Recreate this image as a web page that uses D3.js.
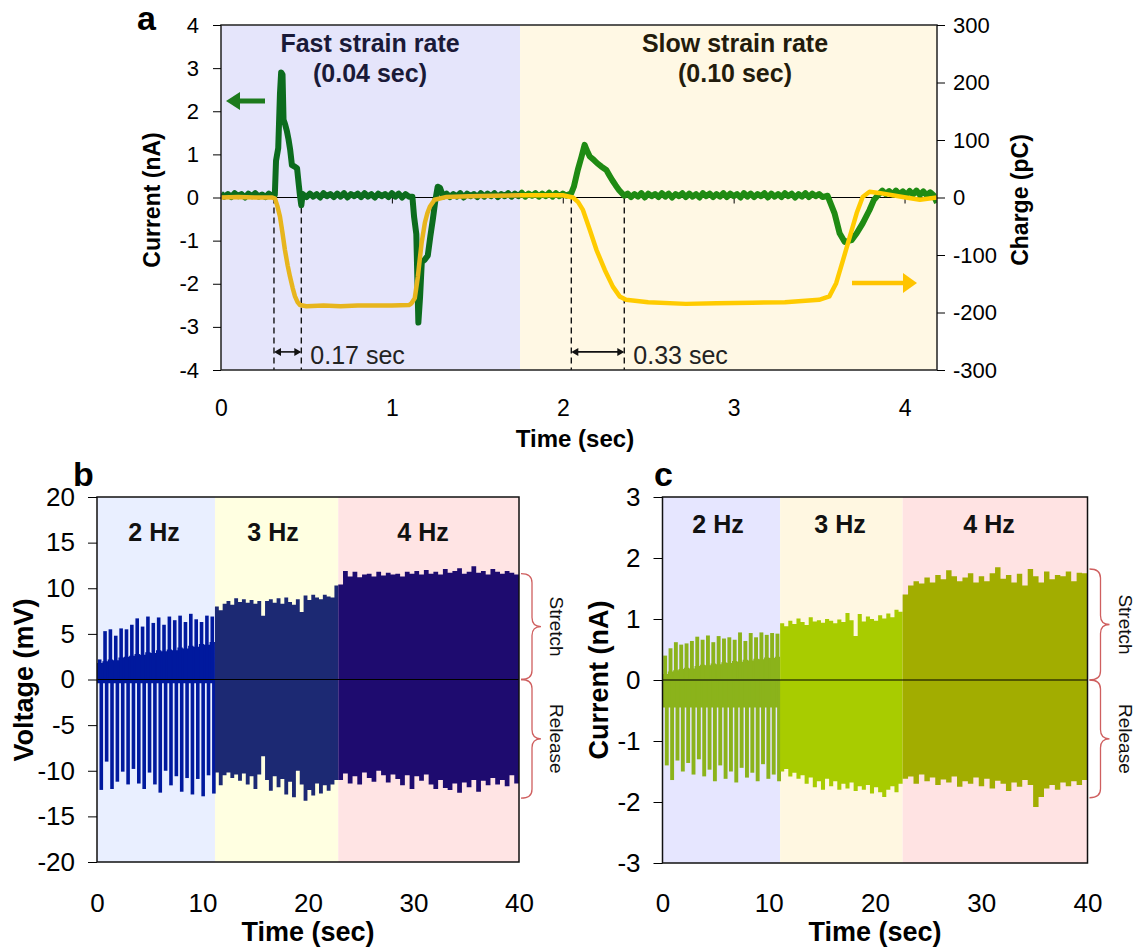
<!DOCTYPE html>
<html>
<head>
<meta charset="utf-8">
<script src="https://cdn.jsdelivr.net/npm/d3@7"></script>
<style>
  body { margin: 0; background: #fff; }
  text { font-family: "Liberation Sans", Arial, sans-serif; }
</style>
</head>
<body>
<svg id="fig" width="1138" height="947"></svg>
<script>
// ---------- panel a : current (nA) and charge (pC) vs time (sec)
var aTimeTicks = [0, 1, 2, 3, 4];
var aCurrentTicks = [-4, -3, -2, -1, 0, 1, 2, 3, 4];
var aChargeTicks = [-300, -200, -100, 0, 100, 200, 300];
var aMinorTicks = [1, 2, 3, 4];
var aRegions = [0, 1.75, 4.19];
var aTitles = [["Fast strain rate", "(0.04 sec)"], ["Slow strain rate", "(0.10 sec)"]];
var aSpans = [[0.31, 0.47, "0.17 sec"], [2.05, 2.36, "0.33 sec"]];

var aCurrent = [
  [0.00, 0.09], [0.02, 0.02], [0.04, 0.08], [0.06, 0.01], [0.08, 0.10], [0.10, 0.03], [0.12, 0.08],
  [0.14, 0.00], [0.16, 0.09], [0.18, 0.03], [0.20, 0.10], [0.22, 0.02], [0.24, 0.07], [0.26, 0.01],
  [0.28, 0.09], [0.30, 0.03], [0.315, 0.06],
  [0.322, 0.85], [0.335, 1.15], [0.345, 2.4], [0.352, 2.9], [0.36, 2.85], [0.366, 1.8], [0.375, 1.7],
  [0.385, 1.55], [0.395, 1.35], [0.405, 1.1], [0.415, 0.75], [0.43, 0.72], [0.445, 0.68], [0.455, 0.3],
  [0.462, 0.05], [0.47, -0.18], [0.478, 0.08],
  [0.50, 0.01], [0.52, 0.09], [0.54, 0.02], [0.56, 0.08], [0.58, 0.00], [0.60, 0.10], [0.62, 0.03],
  [0.64, 0.08], [0.66, 0.01], [0.68, 0.09], [0.70, 0.02], [0.72, 0.10], [0.74, 0.00], [0.76, 0.08],
  [0.78, 0.03], [0.80, 0.09], [0.82, 0.01], [0.84, 0.10], [0.86, 0.02], [0.88, 0.08], [0.90, 0.00],
  [0.92, 0.09], [0.94, 0.03], [0.96, 0.08], [0.98, 0.01], [1.00, 0.10], [1.02, 0.02], [1.04, 0.09],
  [1.06, 0.00], [1.08, 0.08], [1.10, 0.02],
  [1.12, 0.02], [1.13, -0.45], [1.143, -0.85], [1.155, -2.9], [1.165, -2.3], [1.175, -1.5], [1.19, -1.45],
  [1.21, -1.35], [1.225, -0.9], [1.24, -0.5], [1.255, -0.05], [1.268, 0.25], [1.282, 0.22], [1.30, 0.02],
  [1.32, 0.09], [1.34, 0.01], [1.36, 0.08], [1.38, 0.02], [1.40, 0.10], [1.42, 0.00], [1.44, 0.09],
  [1.46, 0.03], [1.48, 0.08], [1.50, 0.01], [1.52, 0.10], [1.54, 0.02], [1.56, 0.09], [1.58, 0.03],
  [1.60, 0.10], [1.62, 0.01], [1.64, 0.08], [1.66, 0.03], [1.68, 0.10], [1.70, 0.02], [1.72, 0.09],
  [1.74, 0.03], [1.76, 0.11], [1.78, 0.02], [1.80, 0.09], [1.82, 0.04], [1.84, 0.10], [1.86, 0.02],
  [1.88, 0.09], [1.90, 0.03], [1.92, 0.11], [1.94, 0.02], [1.96, 0.10], [1.98, 0.03], [2.00, 0.09],
  [2.02, 0.04], [2.05, 0.10],
  [2.065, 0.25], [2.088, 0.64], [2.11, 0.95], [2.128, 1.22], [2.14, 1.1], [2.158, 0.95], [2.18, 0.88],
  [2.2, 0.8], [2.225, 0.72], [2.255, 0.64], [2.275, 0.5], [2.29, 0.4], [2.31, 0.28], [2.33, 0.17],
  [2.36, 0.04],
  [2.38, 0.09], [2.40, 0.01], [2.42, 0.08], [2.44, 0.02], [2.46, 0.10], [2.48, 0.00], [2.50, 0.09],
  [2.52, 0.03], [2.54, 0.08], [2.56, 0.01], [2.58, 0.10], [2.60, 0.02], [2.62, 0.09], [2.64, 0.00],
  [2.66, 0.08], [2.68, 0.03], [2.70, 0.10], [2.72, 0.01], [2.74, 0.09], [2.76, 0.02], [2.78, 0.08],
  [2.80, 0.00], [2.82, 0.10], [2.84, 0.03], [2.86, 0.09], [2.88, 0.01], [2.90, 0.08], [2.92, 0.02],
  [2.94, 0.10], [2.96, 0.01], [2.98, 0.09], [3.00, 0.03], [3.02, 0.08], [3.04, 0.00], [3.06, 0.10],
  [3.08, 0.02], [3.10, 0.09], [3.12, 0.01], [3.14, 0.08], [3.16, 0.03], [3.18, 0.10], [3.20, 0.00],
  [3.22, 0.09], [3.24, 0.02], [3.26, 0.08], [3.28, 0.01], [3.30, 0.10], [3.32, 0.03], [3.34, 0.09],
  [3.36, 0.00], [3.38, 0.08], [3.40, 0.02], [3.42, 0.10], [3.44, 0.01], [3.46, 0.09], [3.48, 0.03],
  [3.50, 0.08], [3.52, 0.01], [3.55, 0.04],
  [3.59, -0.36], [3.62, -0.83], [3.65, -1.03], [3.69, -0.99], [3.72, -0.83], [3.755, -0.6], [3.795, -0.29],
  [3.82, -0.06], [3.85, 0.08], [3.87, 0.16],
  [3.89, 0.08], [3.91, 0.15], [3.93, 0.07], [3.95, 0.16], [3.97, 0.08], [3.99, 0.14], [4.01, 0.06],
  [4.03, 0.15], [4.05, 0.07], [4.07, 0.16], [4.09, 0.06], [4.11, 0.14], [4.13, 0.05], [4.15, 0.12],
  [4.17, 0.05], [4.19, -0.12]
];

var aCharge = [
  [0, 0], [0.1, 1], [0.2, 0], [0.3, 0], [0.316, -2], [0.33, -15], [0.345, -33], [0.36, -62], [0.374, -91],
  [0.39, -118], [0.404, -138], [0.42, -158], [0.433, -172], [0.448, -182], [0.462, -187], [0.5, -189],
  [0.6, -188], [0.7, -189], [0.8, -188], [0.9, -188], [1.0, -188], [1.1, -187], [1.115, -184], [1.134, -175],
  [1.152, -138], [1.163, -108], [1.174, -79], [1.193, -44], [1.208, -27], [1.222, -16], [1.25, -4],
  [1.32, 1], [1.45, 2], [1.6, 3], [1.8, 4], [2.0, 4], [2.06, 0], [2.09, -8], [2.117, -21], [2.158, -56],
  [2.197, -91], [2.246, -126], [2.293, -155], [2.333, -172], [2.37, -178], [2.5, -182], [2.72, -185],
  [2.9, -184], [3.11, -183], [3.3, -182], [3.5, -178], [3.56, -172], [3.6, -149], [3.64, -109], [3.68, -68],
  [3.72, -27], [3.755, 1], [3.795, 10], [3.85, 8], [3.99, 1], [4.09, -4], [4.19, 0]
];

// ---------- panels b and c : 2, 3 and 4 Hz stretching
var freqLabels = ["2 Hz", "3 Hz", "4 Hz"];
var bcTimeTicks = [0, 10, 20, 30, 40];
var bVoltTicks = [-20, -15, -10, -5, 0, 5, 10, 15, 20];
var cCurrentTicks = [-3, -2, -1, 0, 1, 2, 3];
var bRegions = [0, 11.18, 22.87, 40];
var cRegions = [0, 11.07, 22.6, 40];

// voltage (mV): per-cycle peaks, troughs; 2 Hz body level
var b2Top = [2.2, 5.3, 5.5, 4.8, 5.6, 5.5, 6.0, 6.7, 5.8, 6.9, 6.2, 6.8, 6.0, 6.9, 6.5, 7.0, 6.3, 7.2, 6.6, 6.3, 7.0, 6.9];
var b2Bot = [-12.1, -9.0, -12.0, -11.2, -10.1, -11.5, -9.8, -11.4, -12.0, -10.2, -11.5, -12.4, -10.0, -11.6, -10.6, -12.3, -10.8, -12.6, -10.9, -12.8, -10.5, -12.5];
var b2Body = [1.8, 2.0, 2.2, 2.1, 2.4, 2.5, 2.6, 2.8, 2.7, 3.0, 2.9, 3.2, 3.1, 3.3, 3.2, 3.5, 3.4, 3.7, 3.6, 3.9, 3.8, 4.1];
var b2Floor = -0.4;
var b3Top = [8.0, 7.6, 8.3, 8.6, 8.2, 8.9, 8.5, 8.8, 8.4, 8.7, 8.3, 8.6, 7.0, 8.6, 8.8, 8.4, 8.9, 8.3, 9.0, 8.5, 8.2, 8.8, 7.4, 9.2, 8.7, 9.3, 9.0, 8.8, 9.3, 9.1, 9.0, 10.3];
var b3Bot = [-10.2, -11.6, -10.5, -10.2, -10.8, -10.4, -11.1, -10.3, -11.5, -10.6, -12.0, -10.4, -8.4, -11.0, -12.2, -10.6, -11.8, -10.9, -12.6, -11.2, -12.9, -10.0, -11.5, -13.3, -12.1, -12.7, -11.4, -12.5, -11.6, -12.2, -11.5, -11.0];
var b4Top = [10.4, 11.9, 11.3, 11.8, 11.2, 11.5, 11.6, 11.3, 11.8, 11.4, 11.7, 11.5, 11.6, 11.3, 11.8, 11.6, 11.9, 11.5, 12.0, 11.6, 11.8, 11.5, 12.1, 11.7, 11.9, 12.2, 11.6, 11.8, 12.4, 11.7, 11.9, 11.5, 12.1, 11.8, 11.6, 11.9, 11.7, 11.5];
var b4Bot = [-11.0, -10.3, -11.4, -10.6, -11.5, -10.2, -10.8, -11.2, -10.0, -10.5, -11.3, -10.4, -10.9, -11.6, -10.5, -12.0, -10.6, -11.1, -10.4, -11.5, -12.0, -11.0, -11.9, -12.1, -11.4, -12.4, -11.3, -11.8, -11.0, -12.3, -11.1, -11.6, -10.8, -11.5, -11.0, -11.7, -10.5, -11.4];
var bBrace = [[11.6, 0, "Stretch"], [0, -13.0, "Release"]];

// current (nA)
var c2Top = [0.40, 0.52, 0.62, 0.58, 0.60, 0.64, 0.71, 0.66, 0.73, 0.62, 0.72, 0.68, 0.70, 0.66, 0.78, 0.64, 0.77, 0.70, 0.78, 0.74, 0.77, 0.76];
var c2Bot = [-1.40, -1.64, -1.32, -1.50, -1.36, -1.55, -1.30, -1.58, -1.47, -1.66, -1.40, -1.62, -1.50, -1.68, -1.44, -1.60, -1.52, -1.66, -1.38, -1.62, -1.55, -1.66];
var c2Body = [0.10, 0.14, 0.16, 0.18, 0.20, 0.19, 0.23, 0.25, 0.24, 0.27, 0.26, 0.29, 0.28, 0.31, 0.30, 0.33, 0.32, 0.35, 0.34, 0.37, 0.36, 0.38];
var c2Floor = -0.45;
var c3Top = [0.93, 0.88, 0.97, 0.92, 1.01, 0.95, 0.90, 1.03, 0.96, 0.98, 0.94, 1.00, 0.97, 0.93, 0.99, 0.95, 1.10, 0.98, 0.72, 1.08, 0.96, 1.04, 1.00, 0.97, 1.06, 1.01, 1.09, 1.03, 1.15, 1.12];
var c3Bot = [-1.50, -1.46, -1.58, -1.52, -1.62, -1.56, -1.70, -1.60, -1.76, -1.66, -1.80, -1.62, -1.74, -1.66, -1.80, -1.70, -1.78, -1.68, -1.82, -1.74, -1.80, -1.72, -1.86, -1.76, -1.84, -1.92, -1.80, -1.74, -1.84, -1.70];
var c4Top = [1.40, 1.55, 1.62, 1.58, 1.68, 1.60, 1.72, 1.65, 1.80, 1.70, 1.62, 1.68, 1.75, 1.60, 1.70, 1.62, 1.75, 1.85, 1.66, 1.72, 1.60, 1.74, 1.55, 1.82, 1.70, 1.60, 1.78, 1.65, 1.72, 1.70, 1.78, 1.62, 1.76, 1.75];
var c4Bot = [-1.62, -1.58, -1.70, -1.55, -1.66, -1.60, -1.72, -1.63, -1.68, -1.58, -1.75, -1.66, -1.70, -1.60, -1.74, -1.62, -1.78, -1.65, -1.70, -1.82, -1.68, -1.75, -1.64, -1.72, -2.08, -1.92, -1.78, -1.72, -1.80, -1.68, -1.74, -1.66, -1.72, -1.64];
var cBrace = [[1.82, 0, "Stretch"], [0, -1.93, "Release"]];

var svg = d3.select("#fig");
var FONT = "'Liberation Sans', Arial, sans-serif";

// plain hyphen for negatives, as in the original figure
function num(d) { return d < 0 ? "-" + Math.abs(d) : String(d); }

function styleAxis(g, size) {
  g.attr("font-family", FONT).attr("font-size", size);
  g.select(".domain").remove();
  g.selectAll("text").attr("fill", "#000");
  g.selectAll("line").attr("stroke", "#000");
}

// ================= panel a =================
var ax = d3.scaleLinear().domain([0, 4.19]).range([221, 937]);
var ay = d3.scaleLinear().domain([-4, 4]).range([370, 25]);
var ayR = d3.scaleLinear().domain([-300, 300]).range([370, 25]);
var aBg = ["#e5e5fb", "#fff8e4"];
var aGreen = ["#0c6c1e", "#1f8b13"];
var aYellow = ["#e7b51d", "#ffcb00"];

var pa = svg.append("g");
var defs = svg.append("defs");
aBg.forEach(function(c, i) {
  pa.append("rect").attr("x", ax(aRegions[i])).attr("y", ay(4))
    .attr("width", ax(aRegions[i + 1]) - ax(aRegions[i])).attr("height", ay(-4) - ay(4))
    .attr("fill", c);
  defs.append("clipPath").attr("id", "clipA" + i).append("rect")
    .attr("x", ax(aRegions[i])).attr("y", 0)
    .attr("width", ax(aRegions[i + 1]) - ax(aRegions[i])).attr("height", 400);
});

// zero line with small ticks
pa.append("line").attr("x1", ax(0)).attr("x2", ax(4.19)).attr("y1", ay(0)).attr("y2", ay(0))
  .attr("stroke", "#000").attr("stroke-width", 1);
pa.append("g").attr("transform", "translate(0," + ay(0) + ")")
  .call(d3.axisBottom(ax).tickValues(aMinorTicks).tickSize(6).tickFormat(""))
  .call(styleAxis, 10);

// dashed markers
aSpans.forEach(function(s) {
  [s[0], s[1]].forEach(function(t) {
    pa.append("line").attr("x1", ax(t)).attr("x2", ax(t)).attr("y1", ay(0)).attr("y2", ay(-4))
      .attr("stroke", "#111").attr("stroke-width", 1.4).attr("stroke-dasharray", "6,4");
  });
});

var lineA = d3.line().x(function(d) { return ax(d[0]); });
aGreen.forEach(function(c, i) {
  var g = pa.append("g").attr("clip-path", "url(#clipA" + i + ")");
  g.append("path").datum(aCurrent)
    .attr("d", lineA.y(function(d) { return ay(d[1]); }))
    .attr("fill", "none").attr("stroke", c).attr("stroke-width", 6).attr("stroke-linejoin", "round");
});
aYellow.forEach(function(c, i) {
  var g = pa.append("g").attr("clip-path", "url(#clipA" + i + ")");
  g.append("path").datum(aCharge)
    .attr("d", lineA.y(function(d) { return ayR(d[1]); }))
    .attr("fill", "none").attr("stroke", c).attr("stroke-width", 4.5).attr("stroke-linejoin", "round");
});

// double arrows + labels
aSpans.forEach(function(s) {
  var y = ay(-3.58), x1 = ax(s[0]), x2 = ax(s[1]);
  pa.append("line").attr("x1", x1 + 2).attr("x2", x2 - 2).attr("y1", y).attr("y2", y)
    .attr("stroke", "#111").attr("stroke-width", 1.6);
  pa.append("path").attr("d", "M" + x1 + "," + y + "l7,-4l0,8z").attr("fill", "#111");
  pa.append("path").attr("d", "M" + x2 + "," + y + "l-7,-4l0,8z").attr("fill", "#111");
  pa.append("text").attr("x", x2 + 9).attr("y", y + 12).attr("font-size", 25)
    .attr("fill", "#222").text(s[2]);
});

// region titles
aTitles.forEach(function(t, i) {
  var cxp = i === 0 ? 370 : 735;
  var g = pa.append("g").attr("font-weight", "bold").attr("font-size", 25)
    .attr("fill", i === 0 ? "#1a1a38" : "#231c0c").attr("text-anchor", "middle");
  g.append("text").attr("x", cxp).attr("y", 52).text(t[0]);
  g.append("text").attr("x", cxp).attr("y", 82).text(t[1]);
});

// side arrows
pa.append("line").attr("x1", 238).attr("x2", 265).attr("y1", 101).attr("y2", 101)
  .attr("stroke", "#1d7a1d").attr("stroke-width", 5);
pa.append("path").attr("d", "M226,101l14,-9l0,18z").attr("fill", "#1d7a1d");
pa.append("line").attr("x1", 852).attr("x2", 905).attr("y1", 283).attr("y2", 283)
  .attr("stroke", "#ffc400").attr("stroke-width", 4.5);
pa.append("path").attr("d", "M917,283l-14,-10l0,20z").attr("fill", "#ffc400");

// frame and axes
pa.append("rect").attr("x", ax(0)).attr("y", ay(4)).attr("width", ax(4.19) - ax(0))
  .attr("height", ay(-4) - ay(4)).attr("fill", "none").attr("stroke", "#222").attr("stroke-width", 1.5);
pa.append("g").attr("transform", "translate(" + ax(0) + ",0)")
  .call(d3.axisLeft(ay).tickValues(aCurrentTicks).tickFormat(num).tickSize(8).tickPadding(14))
  .call(styleAxis, 22);
pa.append("g").attr("transform", "translate(" + ax(4.19) + ",0)")
  .call(d3.axisRight(ayR).tickValues(aChargeTicks).tickFormat(num).tickSize(8).tickPadding(8))
  .call(styleAxis, 22);
pa.append("g").attr("transform", "translate(0,400)")
  .call(d3.axisBottom(ax).tickValues(aTimeTicks).tickFormat(num).tickSize(0).tickPadding(0))
  .call(styleAxis, 23);

pa.append("text").attr("x", 575).attr("y", 447).attr("text-anchor", "middle")
  .attr("font-size", 24).attr("font-weight", "bold").text("Time (sec)");
pa.append("text").attr("transform", "translate(160,200) rotate(-90)").attr("text-anchor", "middle")
  .attr("font-size", 23).attr("font-weight", "bold").text("Current (nA)");
pa.append("text").attr("transform", "translate(1028,200) rotate(-90)").attr("text-anchor", "middle")
  .attr("font-size", 23).attr("font-weight", "bold").text("Charge (pC)");
pa.append("text").attr("x", 137).attr("y", 30).attr("font-size", 34).attr("font-weight", "bold").text("a");

// ================= panels b, c =================
function drawFreqPanel(o) {
  var x = o.x, y = o.y, R = o.regions;
  var p = svg.append("g");
  o.bg.forEach(function(c, i) {
    p.append("rect").attr("x", x(R[i])).attr("y", y.range()[1])
      .attr("width", x(R[i + 1]) - x(R[i])).attr("height", y.range()[0] - y.range()[1])
      .attr("fill", c);
  });

  // 2 Hz : body plus individual spikes
  var n = o.top[0].length, dt = (R[1] - R[0]) / n;
  var body = o.body.map(function(v, i) { return [R[0] + i * dt, v]; });
  body.push([R[1], o.body[n - 1]]);
  p.append("path").datum(body)
    .attr("d", d3.area().curve(d3.curveStepAfter)
      .x(function(d) { return x(d[0]); })
      .y0(y(o.floor)).y1(function(d) { return y(d[1]); }))
    .attr("fill", o.colors[0]);
  [o.top[0], o.bot[0]].forEach(function(arr, k) {
    p.selectAll(null).data(arr).enter().append("line")
      .attr("x1", function(d, i) { return x(R[0] + (i + 0.5 + k * 0.3) * dt); })
      .attr("x2", function(d, i) { return x(R[0] + (i + 0.5 + k * 0.3) * dt); })
      .attr("y1", y(0)).attr("y2", function(d) { return y(d); })
      .attr("stroke", o.colors[0]).attr("stroke-width", o.barW);
  });

  // 3 and 4 Hz : dense oscillation, drawn as the filled envelope
  [1, 2].forEach(function(r) {
    var m = o.top[r].length, st = (R[r + 1] - R[r]) / m;
    var pts = o.top[r].map(function(v, i) { return [R[r] + i * st, v, o.bot[r][i]]; });
    pts.push([R[r + 1], o.top[r][m - 1], o.bot[r][m - 1]]);
    p.append("path").datum(pts)
      .attr("d", d3.area().curve(d3.curveStepAfter)
        .x(function(d) { return x(d[0]); })
        .y0(function(d) { return y(d[2]); }).y1(function(d) { return y(d[1]); }))
      .attr("fill", o.colors[r]);
  });

  p.append("line").attr("x1", x(0)).attr("x2", x(40)).attr("y1", y(0)).attr("y2", y(0))
    .attr("stroke", "#000").attr("stroke-width", 1.2);

  freqLabels.forEach(function(t, i) {
    p.append("text").attr("x", o.labelX[i]).attr("y", o.labelY).attr("text-anchor", "middle")
      .attr("font-size", 25).attr("font-weight", "bold").attr("fill", "#111").text(t);
  });

  p.append("rect").attr("x", x(0)).attr("y", y.range()[1]).attr("width", x(40) - x(0))
    .attr("height", y.range()[0] - y.range()[1]).attr("fill", "none")
    .attr("stroke", "#111").attr("stroke-width", 1.5);

  p.append("g").attr("transform", "translate(" + x(0) + ",0)")
    .call(d3.axisLeft(y).tickValues(o.yTicks).tickFormat(num).tickSize(9).tickPadding(13))
    .call(styleAxis, 26);
  p.append("g").attr("transform", "translate(0,894)")
    .call(d3.axisBottom(x).tickValues(bcTimeTicks).tickFormat(num).tickSize(0).tickPadding(0))
    .call(styleAxis, 26);

  p.append("text").attr("x", (x(0) + x(40)) / 2).attr("y", 941).attr("text-anchor", "middle")
    .attr("font-size", 27).attr("font-weight", "bold").text("Time (sec)");
  p.append("text").attr("transform", "translate(" + o.titleX + ",680) rotate(-90)")
    .attr("text-anchor", "middle").attr("font-size", 27).attr("font-weight", "bold").text(o.title);
  p.append("text").attr("x", o.letterX).attr("y", 486).attr("font-size", 34)
    .attr("font-weight", "bold").text(o.letter);

  // curly braces
  o.braces.forEach(function(b) {
    var yA = y(b[0]), yB = y(b[1]), ym = (yA + yB) / 2;
    var x0 = x(40) + 2, xm = x0 + 11, xt = x0 + 20, r = 9;
    p.append("path")
      .attr("d", "M" + x0 + "," + yA + "Q" + xm + "," + yA + " " + xm + "," + (yA + r) +
        "L" + xm + "," + (ym - r) + "Q" + xm + "," + ym + " " + xt + "," + ym +
        "Q" + xm + "," + ym + " " + xm + "," + (ym + r) + "L" + xm + "," + (yB - r) +
        "Q" + xm + "," + yB + " " + x0 + "," + yB)
      .attr("fill", "none").attr("stroke", "#cf5f5f").attr("stroke-width", 1.3);
    p.append("text").attr("transform", "translate(" + (xt + 9) + "," + ym + ") rotate(90)")
      .attr("text-anchor", "middle").attr("font-size", 19).attr("fill", "#111").text(b[2]);
  });
}

drawFreqPanel({
  x: d3.scaleLinear().domain([0, 40]).range([97, 519]),
  y: d3.scaleLinear().domain([-20, 20]).range([862, 497]),
  regions: bRegions,
  bg: ["#e9efff", "#ffffe1", "#ffe4e4"],
  colors: ["#00199e", "#1c2973", "#1e0b6f"],
  top: [b2Top, b3Top, b4Top], bot: [b2Bot, b3Bot, b4Bot],
  body: b2Body, floor: b2Floor, barW: 3.6,
  yTicks: bVoltTicks,
  labelX: [154, 273, 423], labelY: 541,
  title: "Voltage (mV)", titleX: 33, letter: "b", letterX: 73,
  braces: bBrace
});

drawFreqPanel({
  x: d3.scaleLinear().domain([0, 40]).range([662.5, 1087.5]),
  y: d3.scaleLinear().domain([-3, 3]).range([863, 497]),
  regions: cRegions,
  bg: ["#e6e6ff", "#fff7e1", "#ffe3e3"],
  colors: ["#8bb31b", "#a8cc00", "#a2ad00"],
  top: [c2Top, c3Top, c4Top], bot: [c2Bot, c3Bot, c4Bot],
  body: c2Body, floor: c2Floor, barW: 3.9,
  yTicks: cCurrentTicks,
  labelX: [718, 840, 989], labelY: 533,
  title: "Current (nA)", titleX: 608, letter: "c", letterX: 654,
  braces: cBrace
});
</script>
</body>
</html>
